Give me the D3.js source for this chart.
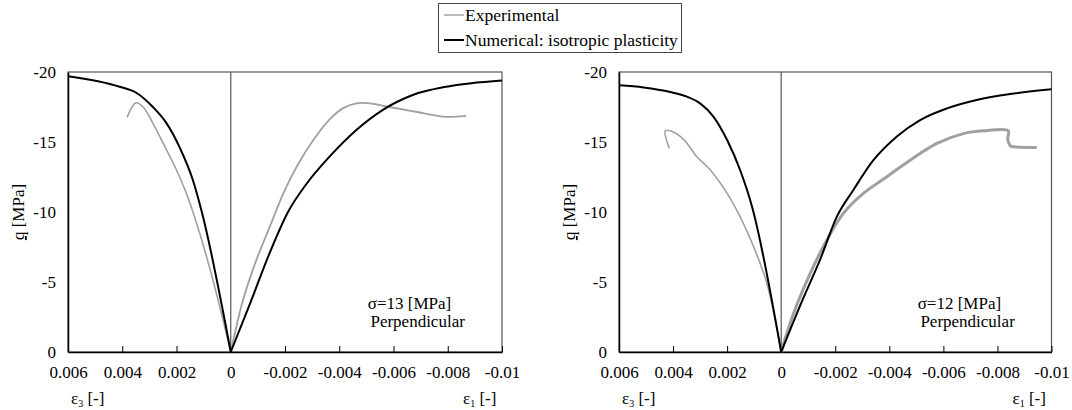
<!DOCTYPE html>
<html>
<head>
<meta charset="utf-8">
<script src="https://cdn.jsdelivr.net/npm/d3@7"></script>
<style>
  body { margin: 0; background: #fff; }
  text { font-family: "Liberation Serif", "Times New Roman", serif; fill: #000; }
</style>
</head>
<body>
<script>
// x ticks and y ticks shared by both panels
const xTicks = [0.006, 0.004, 0.002, 0, -0.002, -0.004, -0.006, -0.008, -0.01];
const xTickLabels = ["0.006", "0.004", "0.002", "0", "-0.002", "-0.004", "-0.006", "-0.008", "-0.01"];
const yTicks = [0, -5, -10, -15, -20];
const yTickLabels = ["0", "-5", "-10", "-15", "-20"];

// panel 1: sigma = 13 MPa  [strain, q]
const num13Eps3 = [[0, 0], [0.00108, -10.1], [0.0014, -12.3], [0.00188, -14.6], [0.00237, -16.35],
  [0.00287, -17.5], [0.00347, -18.5], [0.0041, -18.95], [0.006, -19.7]];
const num13Eps1 = [[0, 0], [-0.0007, -3.4], [-0.00144, -7.1], [-0.00211, -10.0], [-0.00279, -12.0],
  [-0.00364, -13.95], [-0.00463, -15.86], [-0.00561, -17.3], [-0.00671, -18.36], [-0.00794, -18.95], [-0.01, -19.4]];
const exp13Eps3 = [[0.00382, -16.76], [0.0035, -17.8], [0.00323, -17.5], [0.00286, -16.3], [0.00249, -14.9],
  [0.002, -13.0], [0.00163, -11.3], [0.00126, -9.2], [0.00089, -6.8], [0.0004, -3.2], [0, 0]];
const exp13Eps1 = [[0, 0], [-0.00045, -3.7], [-0.00095, -6.6], [-0.00144, -8.95], [-0.00193, -11.3],
  [-0.00242, -13.2], [-0.00303, -15.1], [-0.00364, -16.6], [-0.00413, -17.4], [-0.00463, -17.76],
  [-0.00512, -17.76], [-0.00585, -17.5], [-0.00683, -17.16], [-0.00794, -16.8], [-0.00868, -16.86]];

// panel 2: sigma = 12 MPa
const num12Eps3 = [[0, 0], [0.00108, -10.4], [0.00152, -13.0], [0.002, -15.14], [0.0025, -16.8],
  [0.003, -17.76], [0.00349, -18.24], [0.0041, -18.57], [0.00509, -18.9], [0.006, -19.05]];
const num12Eps1 = [[0, 0], [-0.00083, -3.9], [-0.00144, -6.6], [-0.00206, -9.67], [-0.00267, -11.57],
  [-0.00341, -13.7], [-0.00428, -15.4], [-0.00514, -16.57], [-0.00613, -17.4], [-0.00723, -18.0],
  [-0.00847, -18.43], [-0.01, -18.76]];
const exp12Eps3 = [[0.00414, -14.55], [0.00429, -15.8], [0.0041, -15.8], [0.00361, -15.19], [0.00312, -13.95],
  [0.00262, -13.0], [0.002, -11.33], [0.00152, -9.67], [0.00102, -7.52], [0.00053, -4.9], [0, 0]];
const exp12Eps1 = [[0, 0], [-0.00046, -2.76], [-0.00107, -5.6], [-0.00169, -8.0], [-0.0023, -9.9],
  [-0.00304, -11.33], [-0.00391, -12.52], [-0.00477, -13.7], [-0.00576, -14.9], [-0.00674, -15.6],
  [-0.00748, -15.8], [-0.0084, -15.8], [-0.00838, -15.2], [-0.0085, -14.7], [-0.0087, -14.65], [-0.00945, -14.6]];

const panels = [
  { left: 68, right: 502, sigma: "13", num: [num13Eps3, num13Eps1], exp: [exp13Eps3, exp13Eps1], expW: [1.6, 1.8] },
  { left: 619, right: 1051.5, sigma: "12", num: [num12Eps3, num12Eps1], exp: [exp12Eps3, exp12Eps1], expW: [1.6, 3] }
];

const width = 1072, height = 410;
const plotTop = 72, plotBottom = 352;

const svg = d3.select("body").append("svg")
  .attr("width", width)
  .attr("height", height)
  .attr("font-family", "Liberation Serif");

// legend
const lg = svg.append("g");
lg.append("rect").attr("x", 438.5).attr("y", 3.5).attr("width", 243).attr("height", 49)
  .attr("fill", "#fff").attr("stroke", "#444").attr("stroke-width", 1);
lg.append("line").attr("x1", 444).attr("x2", 464).attr("y1", 15).attr("y2", 15)
  .attr("stroke", "#aaa").attr("stroke-width", 1.6);
lg.append("line").attr("x1", 444).attr("x2", 464).attr("y1", 40).attr("y2", 40)
  .attr("stroke", "#000").attr("stroke-width", 2);
lg.append("text").attr("x", 465).attr("y", 21).style("font-size", "17.5px").text("Experimental");
lg.append("text").attr("x", 465).attr("y", 46).style("font-size", "17.5px").text("Numerical: isotropic plasticity");

panels.forEach(p => {
  const x = d3.scaleLinear().domain([0.006, -0.01]).range([p.left, p.right]);
  const y = d3.scaleLinear().domain([0, -20]).range([plotBottom, plotTop]);
  const g = svg.append("g");

  // frame
  g.append("rect").attr("x", p.left).attr("y", plotTop)
    .attr("width", p.right - p.left).attr("height", plotBottom - plotTop)
    .attr("fill", "none").attr("stroke", "#555").attr("stroke-width", 1.2);

  // zero line
  g.append("line").attr("x1", x(0)).attr("x2", x(0)).attr("y1", plotTop).attr("y2", plotBottom)
    .attr("stroke", "#555").attr("stroke-width", 1.2);

  // bottom axis
  const xAxis = d3.axisBottom(x).tickValues(xTicks).tickSizeInner(-6).tickSizeOuter(0)
    .tickPadding(14).tickFormat((d, i) => xTickLabels[i]);
  const xa = g.append("g").attr("transform", `translate(0,${plotBottom})`).call(xAxis)
    .attr("font-family", null).attr("font-size", null);
  xa.select(".domain").attr("stroke", "#000").attr("stroke-width", 1.5);
  xa.selectAll(".tick line").attr("stroke", "#000").attr("stroke-width", 1);
  xa.selectAll("text").style("font-size", "17px");

  // left axis labels
  const yAxis = d3.axisLeft(y).tickValues(yTicks).tickSize(0).tickPadding(12)
    .tickFormat((d, i) => yTickLabels[i]);
  const ya = g.append("g").attr("transform", `translate(${p.left},0)`).call(yAxis)
    .attr("font-family", null).attr("font-size", null);
  ya.select(".domain").attr("stroke", "#000").attr("stroke-width", 1.5);
  ya.selectAll("text").style("font-size", "17px");

  // axis titles
  const yt = g.append("text")
    .attr("transform", `translate(${p.left - 44},212) rotate(-90)`)
    .attr("text-anchor", "middle").style("font-size", "17px");
  yt.append("tspan").style("text-decoration", "underline").text("q");
  yt.append("tspan").text(" [MPa]");

  const e3 = g.append("text").attr("x", p.left + 3).attr("y", 404).style("font-size", "17px");
  e3.append("tspan").text("ε");
  e3.append("tspan").attr("dy", 3).style("font-size", "10px").text("3");
  e3.append("tspan").attr("dy", -3).text(" [-]");

  const e1 = g.append("text").attr("x", p.right - 39).attr("y", 404).style("font-size", "17px");
  e1.append("tspan").text("ε");
  e1.append("tspan").attr("dy", 3).style("font-size", "10px").text("1");
  e1.append("tspan").attr("dy", -3).text(" [-]");

  // curves
  const expLine = d3.line().x(d => x(d[0])).y(d => y(d[1])).curve(d3.curveCatmullRom.alpha(0.5));
  const numLine = d3.line().x(d => x(d[0])).y(d => y(d[1])).curve(d3.curveMonotoneX);
  p.exp.forEach((s, i) => {
    g.append("path").datum(s).attr("d", expLine)
      .attr("fill", "none").attr("stroke", "#a0a0a0").attr("stroke-width", p.expW[i]);
  });
  p.num.forEach(s => {
    const sorted = s.slice().sort((a, b) => a[0] - b[0]);
    g.append("path").datum(sorted).attr("d", numLine)
      .attr("fill", "none").attr("stroke", "#000").attr("stroke-width", 2);
  });

  // annotation
  g.append("text").attr("x", x(-0.00505)).attr("y", 309).style("font-size", "17px")
    .text("σ=" + p.sigma + " [MPa]");
  g.append("text").attr("x", x(-0.00515)).attr("y", 327).style("font-size", "17px")
    .text("Perpendicular");
});
</script>
</body>
</html>
